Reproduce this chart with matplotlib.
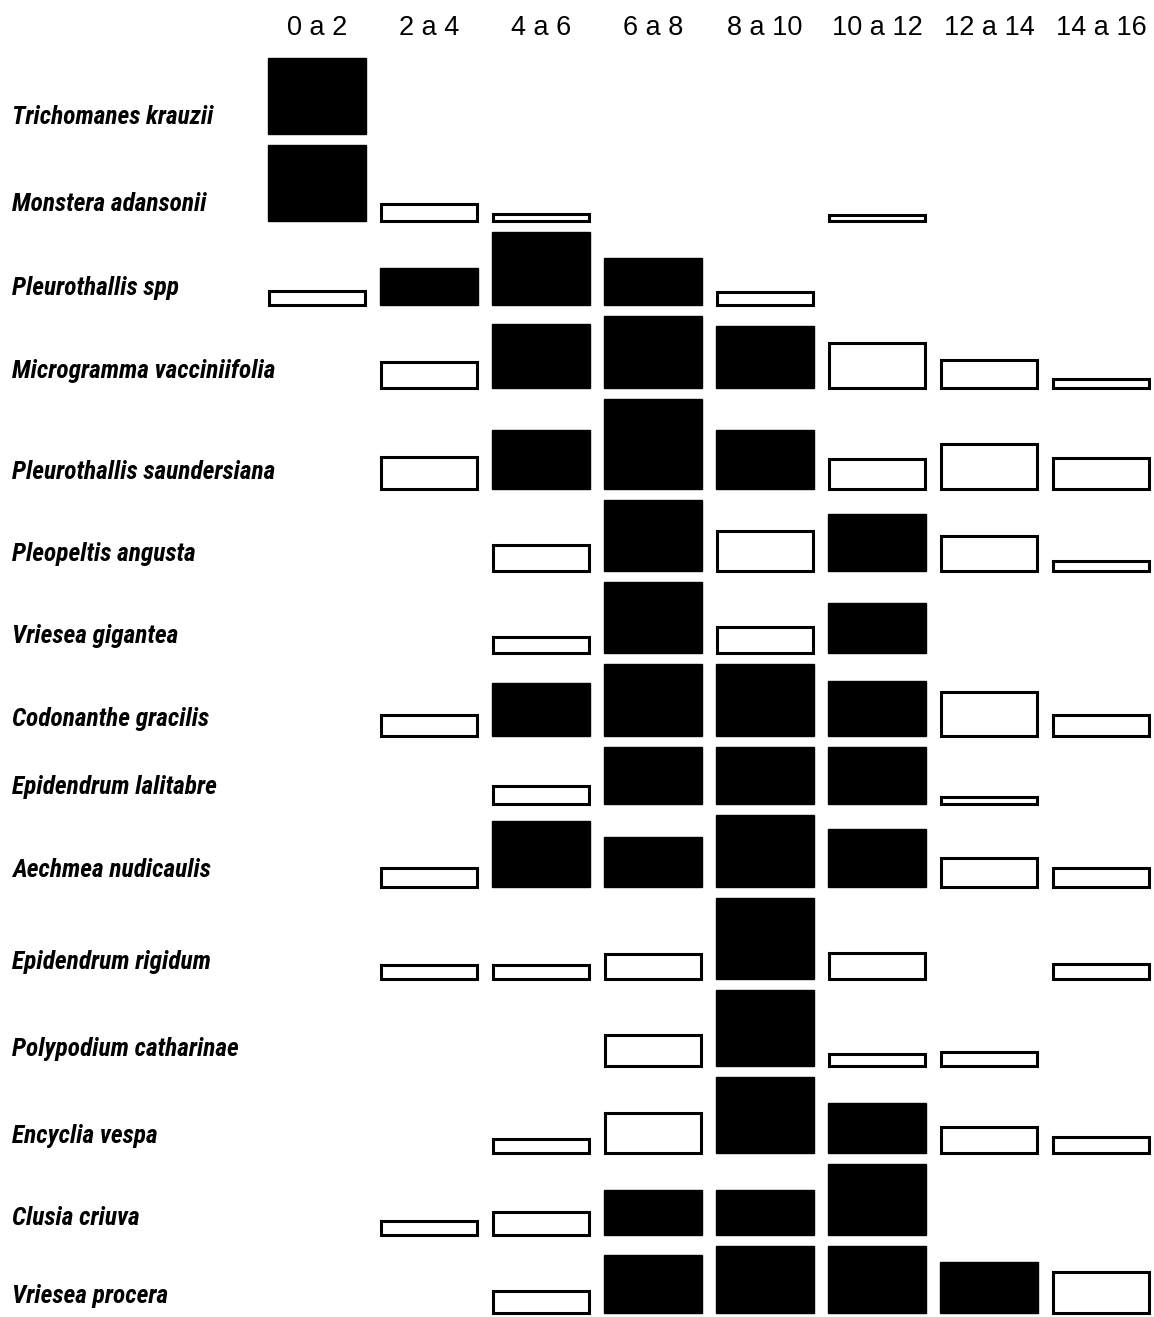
import matplotlib
matplotlib.use("Agg")
import matplotlib.pyplot as plt
import numpy as np

classes = ["0 a 2", "2 a 4", "4 a 6", "6 a 8", "8 a 10", "10 a 12", "12 a 14", "14 a 16"]

species = [
    "Trichomanes krauzii",
    "Monstera adansonii",
    "Pleurothallis spp",
    "Microgramma vacciniifolia",
    "Pleurothallis saundersiana",
    "Pleopeltis angusta",
    "Vriesea gigantea",
    "Codonanthe gracilis",
    "Epidendrum lalitabre",
    "Aechmea nudicaulis",
    "Epidendrum rigidum",
    "Polypodium catharinae",
    "Encyclia vespa",
    "Clusia criuva",
    "Vriesea procera",
]

# bar heights per height class (0 = absent)
values = [
    [76, 0, 0, 0, 0, 0, 0, 0],
    [76, 17, 7, 0, 0, 6, 0, 0],
    [14, 37, 73, 47, 13, 0, 0, 0],
    [0, 26, 64, 72, 62, 45, 28, 9],
    [0, 32, 59, 90, 59, 30, 45, 31],
    [0, 0, 26, 71, 40, 57, 35, 10],
    [0, 0, 16, 71, 26, 50, 0, 0],
    [0, 21, 53, 72, 72, 55, 44, 21],
    [0, 0, 18, 57, 57, 57, 7, 0],
    [0, 19, 66, 50, 72, 58, 29, 19],
    [0, 14, 14, 25, 81, 26, 0, 15],
    [0, 0, 0, 31, 76, 12, 14, 0],
    [0, 0, 14, 40, 76, 50, 26, 16],
    [0, 14, 23, 45, 45, 71, 0, 0],
    [0, 0, 22, 58, 67, 67, 51, 41],
]

# 1 = black (filled) bar, 0 = open bar
filled = [
    [1, 0, 0, 0, 0, 0, 0, 0],
    [1, 0, 0, 0, 0, 0, 0, 0],
    [0, 1, 1, 1, 0, 0, 0, 0],
    [0, 0, 1, 1, 1, 0, 0, 0],
    [0, 0, 1, 1, 1, 0, 0, 0],
    [0, 0, 0, 1, 0, 1, 0, 0],
    [0, 0, 0, 1, 0, 1, 0, 0],
    [0, 0, 1, 1, 1, 1, 0, 0],
    [0, 0, 0, 1, 1, 1, 0, 0],
    [0, 0, 1, 1, 1, 1, 0, 0],
    [0, 0, 0, 0, 1, 0, 0, 0],
    [0, 0, 0, 0, 1, 0, 0, 0],
    [0, 0, 0, 0, 1, 1, 0, 0],
    [0, 0, 0, 1, 1, 1, 0, 0],
    [0, 0, 0, 1, 1, 1, 1, 0],
]

W, H = 1154, 1317
fig = plt.figure(figsize=(W / 100, H / 100), dpi=100)
ax = fig.add_axes([0, 0, 1, 1])
# x in class-index units, y in bar-height units (downwards)
x0_px, step_px = 317.0, 112.0
ax.set_xlim((0 - x0_px) / step_px, (W - x0_px) / step_px)
ax.set_ylim(H, 0)
ax.axis("off")

gap = 11
top = 58
label_font = ["Roboto Condensed", "DejaVu Sans"]
xs = np.arange(len(classes))
for r, name in enumerate(species):
    vals = np.array(values[r], dtype=float)
    base = top + vals.max()
    for i in xs:
        v = vals[i]
        if v <= 0:
            continue
        if filled[r][i]:
            ax.bar(i, v, width=0.875, bottom=base - v, color="black",
                   edgecolor="black", linewidth=1.0, zorder=1)
        else:
            ax.bar(i, v, width=0.855, bottom=base - v, color="white",
                   edgecolor="black", linewidth=2.2, zorder=1)
    ax.text((12 - x0_px) / step_px, base - 17, name, ha="left", va="center",
            fontsize=18.3, fontweight="bold", fontstyle="italic",
            family=label_font, zorder=5)
    top = base + gap

for i, c in enumerate(classes):
    ax.text(i, 28, c, ha="center", va="center", fontsize=19.5,
            family=["Liberation Sans", "DejaVu Sans"], zorder=5)

fig.savefig("out.png", dpi=100)
